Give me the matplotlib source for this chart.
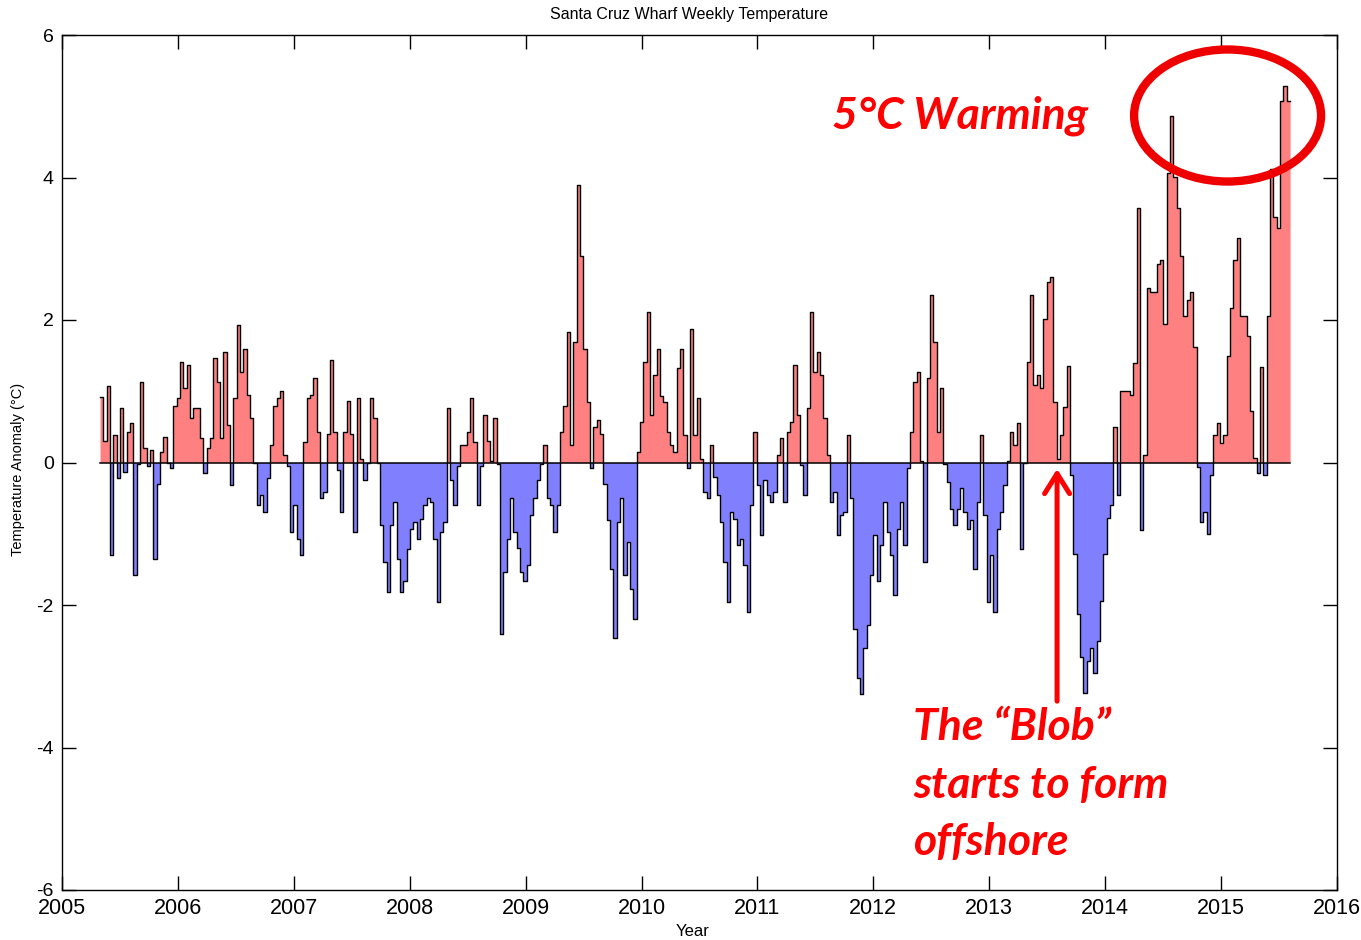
import numpy as np
import matplotlib
matplotlib.use('Agg')
import matplotlib.pyplot as plt
from matplotlib.patches import Ellipse, FancyArrowPatch, ArrowStyle

# ── Data ─────────────────────────────────────────────────────────────────────
# temperature anomaly (degC), every ~1.5 weeks
START_YEAR = 2005.328
STEP_YEARS = 0.02876

anom_2005_2007 = [
    0.92, 0.30, 1.08, -1.30, 0.38, -0.22, 0.76, -0.13, 0.43, 0.55,
    -1.58, -0.02, 1.13, 0.20, -0.05, 0.17, -1.35, -0.30, 0.15, 0.36,
    0.00, -0.08, 0.80, 0.90, 1.41, 1.04, 1.37, 0.62, 0.76, 0.76,
    0.34, -0.15, 0.20, 0.34, 1.46, 1.13, 0.34, 1.55, 0.52, -0.32,
    0.90, 1.93, 1.27, 1.60, 0.95, 0.62, 0.00, -0.60, -0.46, -0.69,
    -0.22, 0.24, 0.80, 0.90, 1.00, 0.10, -0.05, -0.97, -0.60, -1.07,
    -1.30, 0.29, 0.90, 0.95, 1.18, 0.43, -0.50, -0.41, 0.40,
]
anom_2007_2009 = [
    1.44, 0.43, -0.10, -0.69, 0.43, 0.87, 0.40, -0.97, 0.90, 0.05,
    -0.25, 0.00, 0.90, 0.62, 0.00, -0.88, -1.39, -1.82, -0.88, -0.55,
    -1.35, -1.82, -1.67, -1.21, -0.93, -0.84, -1.07, -0.79, -0.60, -0.50,
    -0.55, -1.07, -1.96, -0.97, -0.84, 0.76, -0.25, -0.60, -0.05, 0.24,
    0.24, 0.43, 0.90, 0.29, -0.60, -0.05, 0.66, 0.30, 0.02, 0.62,
    -0.02, -2.40, -1.53, -1.07, -0.50, -0.97, -1.20, -1.53, -1.67, -1.44,
    -0.74, -0.50, -0.25, -0.02, 0.24, -0.50, -0.60, -0.97, -0.60,
]
anom_2009_2010 = [
    0.43, 0.80, 1.83, 0.24, 1.69, 3.89, 2.90, 1.60, 0.85, -0.08,
    0.50, 0.60, 0.40, -0.30, -0.80, -1.50, -2.47, -0.84, -0.50, -1.58,
    -1.11, -1.77, -2.19, 0.15, 0.57, 1.41, 2.11, 0.66, 1.23, 1.60,
    0.94, 0.85, 0.43, 0.24, 0.15, 1.32, 1.60, 0.38, -0.08, 1.88,
    0.38, 0.90, 0.05, -0.41, -0.50, 0.24, -0.20, -0.46, -0.84, -1.39,
    -1.96,
]
anom_2010_2011 = [
    -0.69, -0.79, -1.16, -1.07, -1.44, -2.10, -0.60, 0.43, -0.32, -1.02,
    -0.25, -0.46, -0.55, -0.41, 0.10, 0.34, -0.55, 0.43, 0.57, 1.37,
    0.66, -0.04, -0.46, 0.76, 2.11, 1.27, 1.55, 1.23, 0.62, 0.10,
    -0.55, -0.41, -1.02, -0.74, -0.69, 0.38, -0.50,
]
anom_2011_2013 = [
    -2.33, -3.03, -3.25, -2.60, -2.28, -1.58, -1.02, -1.67, -1.16, -0.55,
    -0.97, -1.30, -1.86, -0.93, -0.55, -1.16, -0.08, 0.43, 1.13, 1.27,
    0.02, -1.39, 1.18, 2.35, 1.69, 0.43, 1.04, -0.02, -0.27, -0.65,
    -0.88, -0.65, -0.36, -0.70, -0.93, -0.80, -1.49, -0.55, 0.38, -0.74,
    -1.96, -1.30, -2.10, -0.93, -0.70, -0.32, 0.02, 0.43, 0.24, 0.55,
    -1.21, 0.00, 1.41, 2.35, 1.09, 1.23, 1.04, 2.02, 2.54, 2.60,
    0.85, 0.05,
]
anom_2013_2015 = [
    0.39, 0.78, 1.35, -0.17, -1.28, -2.12, -2.73, -3.23, -2.79, -2.60,
    -2.95, -2.50, -1.95, -1.28, -0.78, -0.60, 0.50, -0.45, 1.00, 1.00,
    1.00, 0.95, 1.39, 3.57, -0.95, 0.11, 2.45, 2.40, 2.40, 2.79,
    2.84, 1.95, 4.07, 4.87, 4.01, 3.57, 2.90, 2.06, 2.28, 2.40,
    1.62, -0.06, -0.84, -0.70, -1.00, -0.17, 0.39, 0.56, 0.28, 0.39,
    1.50, 2.17, 2.84, 3.15, 2.06, 2.06, 1.78, 0.72, 0.06, -0.15,
    1.34, -0.17, 2.06, 4.12, 3.45, 3.29, 5.07, 5.29, 5.07,
]

YEAR_TICKS = list(range(2005, 2017))
ANOM_TICKS = [-6, -4, -2, 0, 2, 4, 6]

# ── Style ────────────────────────────────────────────────────────────────────
plt.rcParams['font.family'] = ['Liberation Sans', 'DejaVu Sans']
plt.rcParams['axes.unicode_minus'] = False

COLOR_WARM = '#FF8080'
COLOR_COLD = '#8080FF'
COLOR_NOTE = '#FF0000'
NOTE_FONT = dict(family=['Lato', 'DejaVu Sans'], weight='bold', style='italic',
                 color=COLOR_NOTE, fontsize=32)

W, H = 1361, 940


def fx(px):
    return px / W


def fy(py):
    return 1 - py / H


# ── Build series ─────────────────────────────────────────────────────────────
anom = np.array(anom_2005_2007 + anom_2007_2009 + anom_2009_2010 +
                anom_2010_2011 + anom_2011_2013 + anom_2013_2015)
t = START_YEAR + STEP_YEARS * np.arange(len(anom))
# close the last step
t_s = np.append(t, t[-1] + STEP_YEARS)
a_s = np.append(anom, anom[-1])

fig = plt.figure(figsize=(W / 100, H / 100), dpi=100)
ax = fig.add_axes([fx(62), fy(890), fx(1337 - 62), (890 - 35) / H])

ax.fill_between(t_s, np.clip(a_s, 0, None), 0, step='post', color=COLOR_WARM, lw=0)
ax.fill_between(t_s, np.clip(a_s, None, 0), 0, step='post', color=COLOR_COLD, lw=0)
ax.step(t_s, a_s, where='post', color='black', lw=1.0)
ax.plot([t_s[0], t_s[-1]], [0, 0], color='black', lw=1.1)

ax.set_xlim(2005, 2016)
ax.set_ylim(-6, 6)
ax.set_xticks(YEAR_TICKS)
ax.set_yticks(ANOM_TICKS)
ax.tick_params(direction='in', length=10, width=1, top=True, right=True)
ax.tick_params(axis='x', labelsize=15.5, pad=6)
ax.tick_params(axis='y', labelsize=14, pad=6)
for s in ax.spines.values():
    s.set_linewidth(1)

fig.text(fx(689), fy(14), 'Santa Cruz Wharf Weekly Temperature', ha='center', va='center', fontsize=11.5)
fig.text(fx(18), fy(469), 'Temperature Anomaly (°C)', rotation=90, ha='center', va='center', fontsize=10.5)
fig.text(fx(693), fy(932), 'Year', ha='center', va='center', fontsize=12)

# ── Annotations ──────────────────────────────────────────────────────────────
fig.text(fx(832), fy(128), '5°C Warming', ha='left', va='baseline', **NOTE_FONT)
for txt, base in [('The “Blob”', 740), ('starts to form', 798), ('offshore', 855)]:
    fig.text(fx(913), fy(base), txt, ha='left', va='baseline', **NOTE_FONT)

ring = Ellipse((2015.056, 4.87), 1.613, 1.853, fill=False, edgecolor='#EE0000',
               lw=6, clip_on=False, zorder=5)
ax.add_patch(ring)

arrow = FancyArrowPatch((2013.585, -3.35), (2013.585, -0.09),
                        arrowstyle=ArrowStyle('->', head_length=0.4, head_width=0.25),
                        mutation_scale=36, color=COLOR_NOTE, lw=3.6,
                        shrinkA=0, shrinkB=0, zorder=5)
ax.add_patch(arrow)

fig.savefig('out.png', dpi=100)
